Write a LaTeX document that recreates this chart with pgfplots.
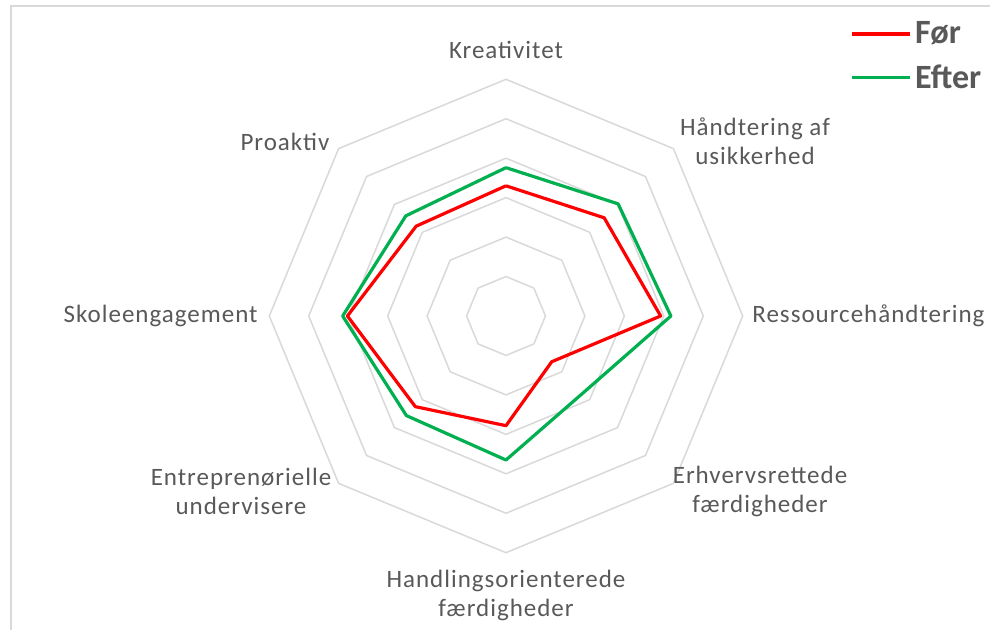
\documentclass[border=0pt]{standalone}
\usepackage{fontspec}
\setmainfont{Carlito}
\newfontfamily\lab{Carlito}[LetterSpace=4]
\usepackage{pgfplots}
\pgfplotsset{compat=1.18}
\usepgfplotslibrary{polar}
\definecolor{txt}{HTML}{595959}
\definecolor{gridc}{HTML}{D9D9D9}
\definecolor{redc}{HTML}{FF0000}
\definecolor{greenc}{HTML}{00B050}
\begin{document}
\begin{tikzpicture}
\useasboundingbox (-253pt,-157pt) rectangle (242pt,158pt);
\fill[white] (-253pt,-157pt) rectangle (242pt,158pt);
\draw[gridc, line width=1.2pt] (-247.5pt,-170pt) -- (-247.5pt,155pt) -- (260pt,155pt);
\begin{polaraxis}[
  at={(0pt,0pt)}, anchor=origin,
  scale only axis, width=236.7pt, height=236.7pt,
  xmin=0, xmax=360, ymin=0, ymax=6,
  hide axis,
  clip=false,
  legend style={at={(axis description cs:1.213,1.14)}, anchor=north west,
    draw=none, fill=none, font=\fontsize{17}{20}\selectfont\bfseries, text=txt,
    row sep=5pt},
  legend cell align=left,
  legend image code/.code={\draw[#1] (0pt,0pt) -- (29pt,0pt);},
]
% octagonal grid
\addplot[gridc, line width=0.75pt, forget plot] coordinates {(90,1)(45,1)(0,1)(315,1)(270,1)(225,1)(180,1)(135,1)(90,1)};
\addplot[gridc, line width=0.75pt, forget plot] coordinates {(90,2)(45,2)(0,2)(315,2)(270,2)(225,2)(180,2)(135,2)(90,2)};
\addplot[gridc, line width=0.75pt, forget plot] coordinates {(90,3)(45,3)(0,3)(315,3)(270,3)(225,3)(180,3)(135,3)(90,3)};
\addplot[gridc, line width=0.75pt, forget plot] coordinates {(90,4)(45,4)(0,4)(315,4)(270,4)(225,4)(180,4)(135,4)(90,4)};
\addplot[gridc, line width=0.75pt, forget plot] coordinates {(90,5)(45,5)(0,5)(315,5)(270,5)(225,5)(180,5)(135,5)(90,5)};
\addplot[gridc, line width=0.75pt, forget plot] coordinates {(90,6)(45,6)(0,6)(315,6)(270,6)(225,6)(180,6)(135,6)(90,6)};
% data
\addplot[redc, line width=1.6pt, line join=round, no marks] coordinates {
  (90,3.30)(45,3.52)(0,3.92)(315,1.64)(270,2.78)(225,3.25)(180,4.02)(135,3.22)(90,3.30)};
\addlegendentry{Før}
\addplot[greenc, line width=1.6pt, line join=round, no marks] coordinates {
  (90,3.76)(45,4.02)(0,4.18)(315,2.76)(270,3.65)(225,3.57)(180,4.14)(135,3.59)(90,3.76)};
\addlegendentry{Efter}
\end{polaraxis}
\begin{scope}[every node/.style={text=txt, font=\lab\fontsize{12.5}{14.5}\selectfont, align=center, inner sep=0pt}]
\node at (0pt,133pt) {Kreativitet};
\node at (124.5pt,87.5pt) {Håndtering af\\usikkerhed};
\node[anchor=west] at (123pt,0pt) {Ressourcehåndtering};
\node at (127pt,-87.5pt) {Erhvervsrettede\\færdigheder};
\node at (0pt,-139.5pt) {Handlingsorienterede\\færdigheder};
\node at (-132.5pt,-87.5pt) {Entreprenørielle\\undervisere};
\node[anchor=east] at (-124pt,0pt) {Skoleengagement};
\node at (-110.5pt,87pt) {Proaktiv};
\end{scope}
\end{tikzpicture}
\end{document}
